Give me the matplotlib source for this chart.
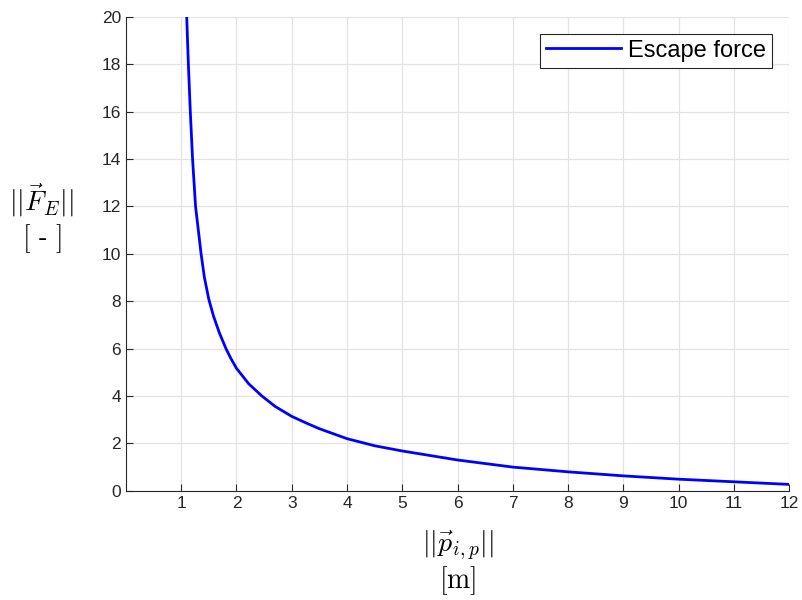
import numpy as np
import matplotlib
matplotlib.use("Agg")
import matplotlib.pyplot as plt

# distance ||p_ip|| [m] and escape force magnitude
dist = [1.10, 1.13, 1.165, 1.206, 1.26, 1.31, 1.36, 1.42, 1.50, 1.585, 1.69, 1.81,
        1.90, 2.0, 2.22, 2.46, 2.70, 3.0, 3.3, 3.5, 4.0, 4.5, 5.0, 6.0, 7.0, 8.0,
        9.0, 10.0, 11.0, 12.0]
force = [20.0, 18.0, 16.0, 14.0, 12.0, 11.0, 10.0, 9.0, 8.08, 7.37, 6.67, 6.0,
         5.58, 5.17, 4.52, 4.0, 3.56, 3.14, 2.82, 2.62, 2.20, 1.90, 1.68, 1.30, 1.00,
         0.80, 0.63, 0.49, 0.38, 0.27]

xticks = list(range(1, 13))
yticks = list(range(0, 21, 2))

plt.rcParams['font.family'] = ['Liberation Sans', 'DejaVu Sans']
plt.rcParams['mathtext.fontset'] = 'cm'

fig = plt.figure(figsize=(8.02, 6.0), dpi=100)
ax = fig.add_axes([0.157, 0.182, 0.827, 0.79])

ax.plot(dist, force, color=(0, 0, 1), lw=2, solid_joinstyle="round",
        label="Escape force")

ax.set_xlim(0, 12)
ax.set_ylim(0, 20)
ax.set_xticks(xticks)
ax.set_yticks(yticks)
ax.grid(True, color="#e3e3e3", lw=0.9)
ax.set_axisbelow(True)

for s in ["top", "right"]:
    ax.spines[s].set_visible(False)
for s in ["left", "bottom"]:
    ax.spines[s].set_color("#262626")
    ax.spines[s].set_linewidth(0.8)
ax.tick_params(direction="in", length=5, width=0.8, colors="#262626",
               labelsize=12.5, labelcolor="#262626")

ax.set_xlabel("$||\\vec{p}_{i,p}||$\n$[\\mathrm{m}]$", fontsize=20, labelpad=13,
              linespacing=1.1)
ax.set_ylabel("$||\\vec{F}_E||$\n$[\\ $-$\\ ]$", fontsize=20, rotation=0,
              ha="center", va="center", linespacing=1.1)
ax.yaxis.set_label_coords(-0.127, 0.575)

leg = ax.legend(loc="upper right", fontsize=17, fancybox=False, framealpha=1,
                edgecolor="#262626", handlelength=3.2, borderpad=0.25,
                handletextpad=0.3, borderaxespad=0.72)
leg.get_frame().set_linewidth(0.8)

fig.savefig("out.png", dpi=100)
